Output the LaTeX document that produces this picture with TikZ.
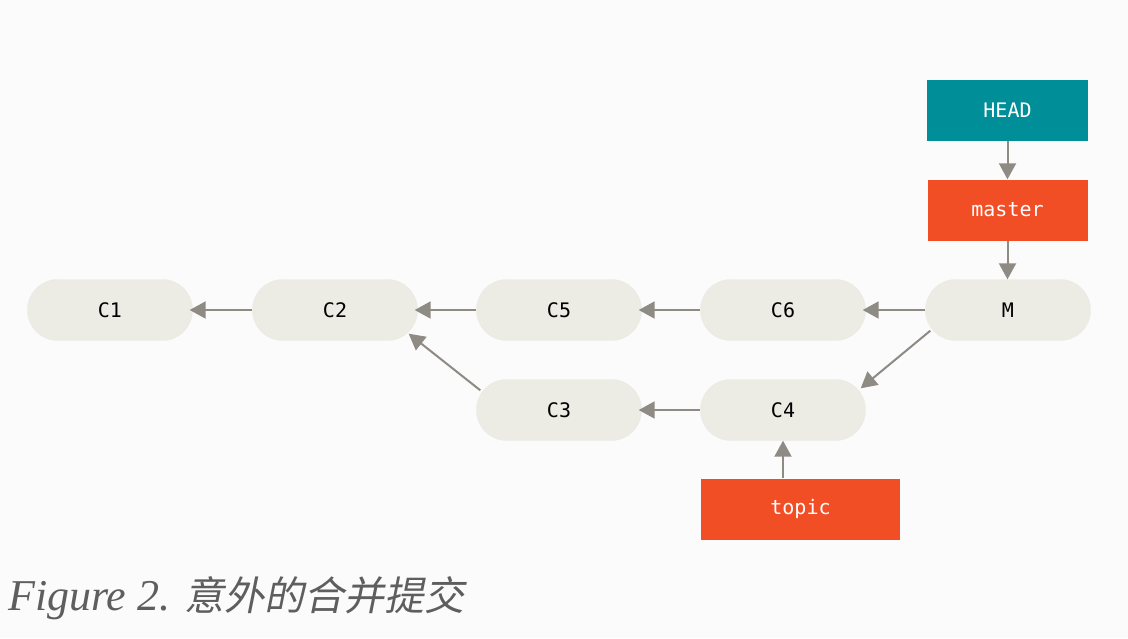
\documentclass[tikz,border=0pt]{standalone}
\usepackage{fontspec}
\setmonofont{DejaVu Sans Mono}
\setmainfont{Liberation Serif}
\newfontfamily\cjk{Noto Sans CJK SC}[FakeSlant=0.2]
\usetikzlibrary{arrows.meta}
\definecolor{bgc}{HTML}{FBFBFB}
\definecolor{commitfill}{HTML}{ECEBE4}
\definecolor{headc}{HTML}{008F98}
\definecolor{branchc}{HTML}{F24E26}
\definecolor{arrowc}{HTML}{8E8A84}
\definecolor{captionc}{HTML}{5E5E5E}
\tikzset{
  commit/.style={rectangle, rounded corners=30pt, fill=commitfill, draw=commitfill!80!black!30,
    minimum width=165pt, minimum height=61pt, inner sep=0pt,
    font=\fontsize{20}{24}\selectfont\ttfamily, text=black},
  ref/.style={rectangle, minimum height=61pt, inner sep=0pt,
    font=\fontsize{20}{24}\selectfont\ttfamily, text=white},
  headref/.style={ref, fill=headc, minimum width=161pt},
  branchref/.style={ref, fill=branchc},
  link/.style={draw=arrowc, line width=2pt, -{Triangle[length=16pt,width=17pt]}}
}
\begin{document}
\begin{tikzpicture}[x=1pt,y=-1pt]
  \fill[bgc] (0,0) rectangle (1128,638);
  \useasboundingbox (0,0) rectangle (1128,638);

  % commits
  \node[commit] (c1) at (110,310) {C1};
  \node[commit] (c2) at (335,310) {C2};
  \node[commit] (c5) at (559,310) {C5};
  \node[commit] (c6) at (783,310) {C6};
  \node[commit] (m)  at (1008,310) {M};
  \node[commit] (c3) at (559,410) {C3};
  \node[commit] (c4) at (783,410) {C4};

  % references
  \node[headref] (head) at (1007.5,110) {HEAD};
  \node[branchref, minimum width=160pt] (master) at (1007.5,210) {master};
  \node[branchref, minimum width=199pt] (topic) at (800.5,509) {topic};

  % parent links
  \draw[link] (c2.west) -- ([xshift=-3pt]c1.east);
  \draw[link] (c5.west) -- ([xshift=-3pt]c2.east);
  \draw[link] (c6.west) -- ([xshift=-3pt]c5.east);
  \draw[link] (m.west) -- ([xshift=-3pt]c6.east);
  \draw[link] (c4.west) -- ([xshift=-3pt]c3.east);
  \draw[link] ([shift={(5pt,10pt)}]m.south west) -- ([shift={(-5pt,-9pt)}]c4.north east);
  \draw[link] ([shift={(4pt,-11pt)}]c3.north west) -- ([shift={(-9pt,7pt)}]c2.south east);

  % reference links
  \draw[link] (head.south) -- (master.north);
  \draw[link] (master.south) -- (master.south |- m.north);
  \draw[link] (topic.north -| c4.south) -- (c4.south);

  % caption
  \node[anchor=base west, inner sep=0pt, text=captionc,
        font=\fontsize{44}{50}\selectfont] (caption) at (8,610)
        {\textit{Figure 2.} {\cjk\fontsize{40}{46}\selectfont 意外的合并提交}};
\end{tikzpicture}
\end{document}
